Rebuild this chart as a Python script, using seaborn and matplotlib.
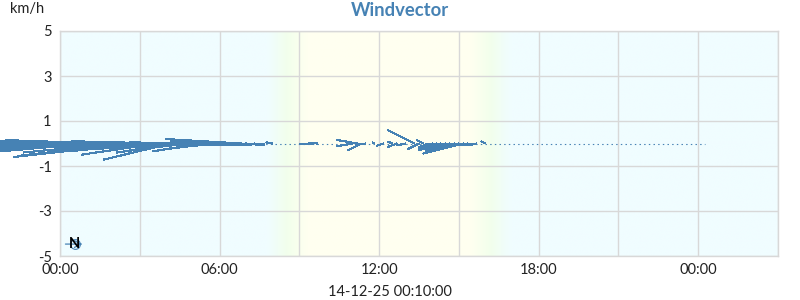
import numpy as np
import pandas as pd
import matplotlib
matplotlib.use("Agg")
import matplotlib.pyplot as plt
from matplotlib.collections import LineCollection
import seaborn as sns

# ---------------- data ----------------
title = "Windvector"
unit_label = "km/h"
footer = "14-12-25 00:10:00"

# sample time (hours since 00:00), east (u) and north (v) components in km/h
vec_time = [0.17, 0.33, 0.50, 0.67, 0.83, 1.00, 1.17, 1.33, 1.50, 1.67, 1.83,
            2.00, 2.17, 2.33, 2.50, 2.67, 2.83, 3.00, 3.17, 3.33, 3.50, 3.67,
            3.83, 4.00, 4.17, 4.33, 4.50, 4.67, 4.83, 5.00, 5.17, 5.33, 5.50,
            5.67, 5.83, 6.00, 6.17, 6.33, 6.50, 6.67, 6.83, 7.00, 7.17, 7.33,
            7.67, 8.00,
            9.50, 9.67, 11.00, 11.17, 11.33, 11.50, 11.83, 12.17, 12.50, 12.67,
            13.00, 13.33, 13.50, 13.67, 13.83, 14.00, 14.17, 14.33, 14.50,
            14.67, 14.83, 15.00, 15.17, 15.33, 15.50, 15.67, 16.00]
vec_u = [-5.5, -6.0, -5.0, -5.8, -4.8, -6.2, -5.2, -4.6, -5.6, -4.4, -5.0,
         -6.0, -4.2, -5.2, -4.8, -4.0, -5.4, -3.8, -4.6, -3.6, -4.4, -3.4,
         -4.0, -3.2, -3.0, -3.6, -2.8, -3.4, -2.6, -2.4, -3.0, -2.2, -2.8,
         -2.0, -2.6, -1.8, -2.4, -1.6, -2.0, -1.4, -3.4, -1.0, -0.8, -0.5,
         -0.4, -0.3,
         -0.6, -0.4, -0.7, -0.9, -0.6, -0.4, -0.1, -0.3, -0.2, -0.4,
         -0.4, -1.2, -0.5, -0.3, -0.4, -0.6, -0.8, -0.7, -1.0,
         -1.1, -0.9, -1.5, -1.8, -1.3, -0.8, -0.3, -0.2]
vec_v = [-0.25, 0.10, -0.35, 0.05, -0.15, 0.20, -0.45, 0.00, -0.20, 0.15, -0.30,
         -0.10, -0.40, 0.10, -0.55, -0.05, -0.60, -0.20, 0.05, -0.35, -0.15, -0.50,
         0.10, -0.25, -0.72, -0.10, -0.40, 0.00, -0.30, -0.20, 0.05, -0.35, -0.10,
         -0.25, 0.00, -0.15, 0.10, -0.10, -0.05, 0.00, 0.20, -0.05, 0.00, -0.05,
         0.00, 0.05,
         -0.02, 0.02, -0.12, 0.16, -0.30, -0.05, 0.05, -0.10, 0.08, -0.15,
         -0.08, 0.60, -0.25, 0.15, -0.20, -0.15, -0.30, -0.10, -0.25,
         -0.35, -0.20, -0.30, -0.45, -0.15, 0.00, -0.05, 0.10]

first_sample = 0.17   # hours
last_sample = 24.25   # hours

x_tick_labels = ["00:00", "06:00", "12:00", "18:00", "00:00"]
y_ticks = [5, 3, 1, -1, -3, -5]

sunrise = 8.55   # hours (centre of dawn gradient)
sunset = 16.2    # hours (centre of dusk gradient)

# ---------------- style ----------------
sns.set_theme(style="whitegrid")
plt.rcParams["font.family"] = ["Lato", "DejaVu Sans"]

VEC = "#4682b4"
NIGHT = np.array([240, 253, 255]) / 255
DAY = np.array([255, 255, 240]) / 255
EDGE = np.array([242, 255, 236]) / 255

fig = plt.figure(figsize=(8, 3), dpi=100)
ax = fig.add_axes([60 / 800, 1 - 256 / 300, 718 / 800, 225 / 300])

x_min, x_max = 0, 27
y_min, y_max = -5, 5

# day / night background
xs = np.linspace(x_min, x_max, 1500)
half = 0.75
f = np.clip(np.minimum((xs - (sunrise - half)) / (2 * half),
                       ((sunset + half) - xs) / (2 * half)), 0, 1)
cols = np.empty((1, len(xs), 3))
for i, fv in enumerate(f):
    if fv < 0.5:
        c = NIGHT + (EDGE - NIGHT) * (fv / 0.5)
    else:
        c = EDGE + (DAY - EDGE) * ((fv - 0.5) / 0.5)
    cols[0, i] = c
ax.imshow(cols, extent=[x_min, x_max, y_min, y_max], aspect="auto",
          zorder=0, interpolation="bilinear")

# scale so vectors keep true direction on screen
px_per_hour = 718 / (x_max - x_min)
px_per_unit = 225 / (y_max - y_min)
k = px_per_unit / px_per_hour

# baseline of calm samples
base = pd.DataFrame({"t": [first_sample, last_sample], "y": [0, 0]})
sns.lineplot(data=base, x="t", y="y", ax=ax, color=VEC, lw=0.8,
             linestyle=(0, (1.3, 2.9)), zorder=3)

segs = [[(t, 0.0), (t + u * k, v)] for t, u, v in zip(vec_time, vec_u, vec_v)]
lc = LineCollection(segs, colors=VEC, linewidths=0.8, zorder=4,
                    clip_on=False, antialiased=False)
ax.add_collection(lc)

# compass indicator
ax.annotate("", xy=(0.95, -4.47), xytext=(0.1, -4.47),
            arrowprops=dict(arrowstyle="->", color=VEC, lw=0.9), zorder=5)
ax.plot([0.55], [-4.47], marker="o", ms=7, mfc="none", mec=VEC, mew=0.8,
        zorder=5)
ax.text(0.55, -4.47, "N", ha="center", va="center", fontsize=10.5,
        fontweight="bold", color="black", zorder=6)

ax.set_xlim(x_min, x_max)
ax.set_ylim(y_min, y_max)
xt = np.arange(0, 28, 3)
ax.set_xticks(xt)
lab = []
for i in range(len(xt)):
    lab.append(x_tick_labels[i // 2] if i % 2 == 0 else "")
ax.set_xticklabels(lab)
ax.set_yticks(y_ticks)
ax.set_yticklabels([str(v) for v in y_ticks])
ax.grid(True, color="#d8d8d8", lw=1.0, zorder=1)
ax.tick_params(length=0, labelsize=10.5, colors="#222222")
ax.tick_params(axis="x", pad=5)
ax.tick_params(axis="y", pad=6)
ax.set_xlabel("")
ax.set_ylabel("")
for s in ax.spines.values():
    s.set_color("#d8d8d8")
    s.set_linewidth(1.0)
for gl in ax.get_xgridlines() + ax.get_ygridlines():
    gl.set_zorder(1)

fig.text(400 / 800, 1 - 10 / 300, title, ha="center", va="center",
         fontsize=13.3, fontweight="bold", color="#4682b4")
fig.text(10 / 800, 1 - 9 / 300, unit_label, ha="left", va="center",
         fontsize=10.5, color="#222222")
fig.text(390 / 800, 1 - 292 / 300, footer, ha="center", va="center",
         fontsize=10.5, color="#222222")

fig.savefig("out.png", dpi=100)
